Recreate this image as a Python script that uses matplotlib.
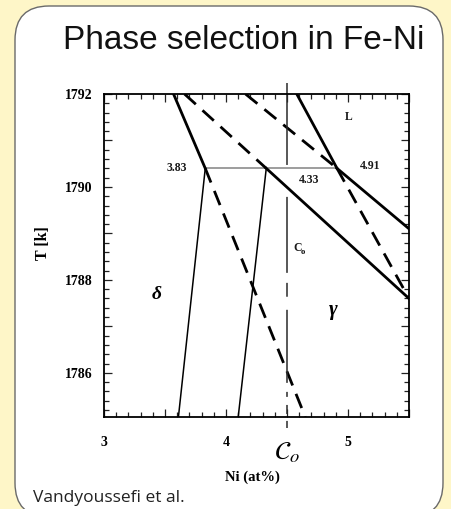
import matplotlib
matplotlib.use("Agg")
import matplotlib.pyplot as plt
from matplotlib.patches import FancyBboxPatch
from matplotlib.ticker import MultipleLocator, FuncFormatter

plt.rcParams['lines.scale_dashes'] = False

# ---- data: Fe-Ni peritectic region (composition in at% Ni, temperature in K) ----
T_peri = 1790.4                  # peritectic temperature
c_delta, c_mid, c_gamma = 3.83, 4.33, 4.91
C0 = 4.5                         # nominal alloy composition

# delta liquidus (stable part above T_peri, metastable continuation below)
liq_delta_ni = [3.57, 3.83]
liq_delta_T = [1792.0, 1790.4]
liq_delta_meta_ni = [3.83, 4.65]
liq_delta_meta_T = [1790.4, 1785.05]
# delta solidus
sol_delta_ni = [3.83, 3.61]
sol_delta_T = [1790.4, 1785.05]
# line through 4.33: metastable above, stable below
mid_meta_ni = [3.66, 4.33]
mid_meta_T = [1792.0, 1790.4]
mid_ni = [4.33, 5.5]
mid_T = [1790.4, 1787.6]
# thin line from 4.33
sol_mid_ni = [4.33, 4.10]
sol_mid_T = [1790.4, 1785.05]
# gamma liquidus: stable above, metastable below
liq_gamma_ni = [4.58, 4.91]
liq_gamma_T = [1792.0, 1790.4]
liq_gamma_meta_ni = [4.91, 5.5]
liq_gamma_meta_T = [1790.4, 1787.6]
# line through 4.91: metastable above, stable below
upper_meta_ni = [4.16, 4.91]
upper_meta_T = [1792.0, 1790.4]
upper_ni = [4.91, 5.5]
upper_T = [1790.4, 1789.1]

x_ticklabels = ['3', '4', '5']
y_ticklabels = ['1786', '1788', '1790', '1792']

# ---- figure ----
W, H = 451, 509
bg = '#FEF6C8'
fig = plt.figure(figsize=(W / 100, H / 100), dpi=100)
fig.patch.set_facecolor(bg)

panel = FancyBboxPatch((0.15, -0.08), 4.28, 5.11,
                       boxstyle="round,pad=0,rounding_size=0.34",
                       transform=fig.dpi_scale_trans,
                       fc='white', ec='#6a6a6a', lw=1.0, zorder=0)
fig.add_artist(panel)

ax = fig.add_axes([104 / W, 1 - 417 / H, 305 / W, 323 / H])
ax.set_facecolor('none')
ax.set_xlim(3, 5.5)
ax.set_ylim(1785.05, 1792)

serif = 'Liberation Serif'
thick, thin, dash = 2.0, 1.1, (0, (11, 6.5))

ax.plot(liq_delta_ni, liq_delta_T, color='k', lw=thick, solid_capstyle='round')
ax.plot(liq_delta_meta_ni, liq_delta_meta_T, color='k', lw=thick, linestyle=dash)
ax.plot(sol_delta_ni, sol_delta_T, color='k', lw=thin)
ax.plot(mid_meta_ni, mid_meta_T, color='k', lw=thick, linestyle=dash)
ax.plot(mid_ni, mid_T, color='k', lw=thick)
ax.plot(sol_mid_ni, sol_mid_T, color='k', lw=thin)
ax.plot(liq_gamma_ni, liq_gamma_T, color='k', lw=thick)
ax.plot(liq_gamma_meta_ni, liq_gamma_meta_T, color='k', lw=thick, linestyle=dash)
ax.plot(upper_meta_ni, upper_meta_T, color='k', lw=thick, linestyle=dash)
ax.plot(upper_ni, upper_T, color='k', lw=thick)

# peritectic isotherm
ax.plot([c_delta, c_gamma], [T_peri, T_peri], color='#8c8c8c', lw=1.2, zorder=1)

# nominal composition line, running past the frame
c0_dashes = [59, 23, 54.7, 7.2, 10, 9.4, 52.6, 6.5, 3.6, 5.8, 6.5, 5, 5.8, 40]
ax.plot([C0, C0], [1792.24, 1784.81], color='#2a2a2a', lw=1.1,
        linestyle=(0, c0_dashes), clip_on=False)

# ---- labels inside the plot ----
lab = dict(family=serif, fontweight='bold', fontsize=8.5, color='#1a1a1a')
ax.text(3.68, T_peri, f'{c_delta:.2f}', ha='right', va='center', **lab)
ax.text(4.60, 1790.15, f'{c_mid:.2f}', ha='left', va='center', **lab)
ax.text(5.10, 1790.45, f'{c_gamma:.2f}', ha='left', va='center', **lab)
ax.text(5.01, 1791.5, 'L', ha='center', va='center', **lab)
ax.text(4.55, 1788.69, 'C', ha='left', va='center', **lab)
ax.text(4.608, 1788.6, 'o', ha='left', va='center', family=serif,
        fontweight='bold', fontsize=6)
ax.text(3.43, 1787.68, 'δ', ha='center', va='center', family=serif,
        fontstyle='italic', fontweight='bold', fontsize=14)
ax.text(4.88, 1787.35, 'γ', ha='center', va='center', family=serif,
        fontstyle='italic', fontweight='bold', fontsize=15)

# ---- ticks ----
ax.xaxis.set_major_locator(MultipleLocator(0.5))
ax.xaxis.set_minor_locator(MultipleLocator(0.1))
ax.yaxis.set_major_locator(MultipleLocator(1.0))
ax.yaxis.set_minor_locator(MultipleLocator(0.2))


def x_fmt(v, pos):
    s = f'{v:g}'
    return s if s in x_ticklabels else ''


def y_fmt(v, pos):
    s = f'{v:.0f}'
    return s if abs(v - round(v)) < 1e-6 and s in y_ticklabels else ''


ax.xaxis.set_major_formatter(FuncFormatter(x_fmt))
ax.yaxis.set_major_formatter(FuncFormatter(y_fmt))
ax.tick_params(which='both', direction='in', top=True, right=True,
               width=0.9, color='#222222')
ax.tick_params(which='major', length=6)
ax.tick_params(which='minor', length=3.8)
ax.tick_params(axis='x', which='major', pad=14)
ax.tick_params(axis='y', which='major', pad=8)
for t in ax.get_xticklabels() + ax.get_yticklabels():
    t.set_family(serif)
    t.set_fontweight('bold')
    t.set_fontsize(10)
for s in ax.spines.values():
    s.set_linewidth(1.3)

# ---- axis titles and captions ----
fig.text(43 / W, 1 - 243 / H, 'T [k]', rotation=90, ha='center', va='center',
         family=serif, fontweight='bold', fontsize=11.5)
fig.text(252 / W, 1 - 477 / H, 'Ni (at%)', ha='center', va='center',
         family=serif, fontweight='bold', fontsize=10.5)
fig.text(287 / W, 1 - 452 / H, r'$\mathcal{C}_o$', ha='center', va='center',
         fontsize=19, math_fontfamily='stix')
fig.text(244 / W, 1 - 49 / H, 'Phase selection in Fe-Ni', ha='center',
         va='baseline', family='Liberation Sans', fontsize=24, color='#111111')
fig.text(33 / W, 1 - 498 / H, 'Vandyoussefi et al.', ha='left', va='center',
         family='Open Sans', fontsize=12.5, color='#222222')

fig.savefig('out.png', dpi=100, facecolor=bg)
